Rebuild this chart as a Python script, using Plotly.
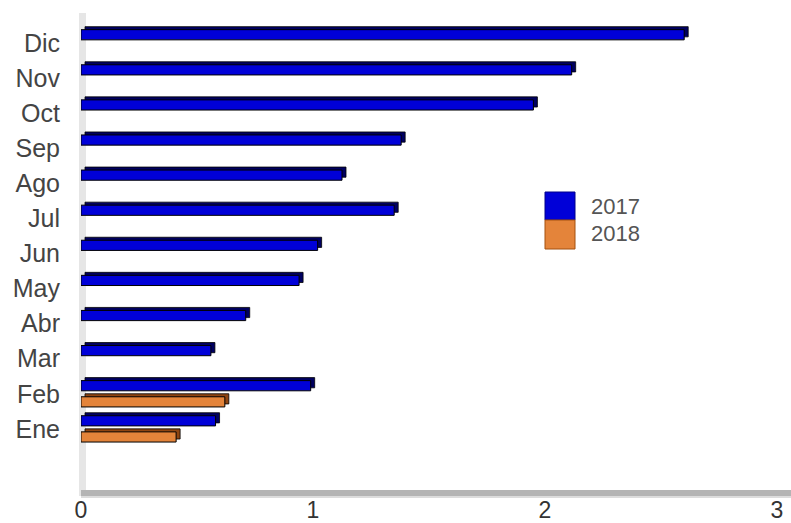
import plotly.graph_objects as go

months = ["Ene", "Feb", "Mar", "Abr", "May", "Jun", "Jul", "Ago", "Sep", "Oct", "Nov", "Dic"]
v2017 = [0.58, 0.99, 0.56, 0.71, 0.94, 1.02, 1.35, 1.125, 1.38, 1.95, 2.115, 2.60]
v2018 = [0.41, 0.62, None, None, None, None, None, None, None, None, None, None]
series_names = ["2017", "2018"]

# geometry (pixel based layout)
W, H = 791, 523
L, R, T, B = 81, 777, 13, 491
y_lo, y_hi = -1.77, 11.85
pos = list(range(len(months)))
px_per_x = (R - L) / 3.0
px_per_y = (B - T) / (y_hi - y_lo)
dx = 4 / px_per_x      # 3D depth (horizontal)
dy = 3 / px_per_y      # 3D depth (vertical)
bw = 0.29

fig = go.Figure()

styles = [
    dict(vals=v2017, face="#0000d8", depth="#000060", offset=0.085, name=series_names[0]),
    dict(vals=v2018, face="#e4843a", depth="#8f4512", offset=-0.085 - bw, name=series_names[1]),
]

# depth faces (shifted copies behind)
for s in styles:
    fig.add_trace(go.Bar(
        y=pos, x=s["vals"],
        base=dx, orientation="h", width=bw, offset=s["offset"] + dy,
        marker=dict(color=s["depth"], line=dict(color="#000000", width=0.8)),
        showlegend=False, hoverinfo="skip",
    ))
# front faces
for s in styles:
    fig.add_trace(go.Bar(
        y=pos, x=s["vals"], orientation="h", width=bw, offset=s["offset"],
        marker=dict(color=s["face"], line=dict(color="#000000", width=1)),
        name=s["name"], showlegend=False,
    ))

def pxx(p):
    return (p - L) / (R - L)

def pxy(p):
    return (B - p) / (B - T)

shapes = [
    # left wall
    dict(type="rect", xref="paper", yref="paper", x0=pxx(79), x1=pxx(86), y0=pxy(496), y1=pxy(T),
         fillcolor="#e6e6e6", line=dict(width=0), layer="below"),
    # floor
    dict(type="rect", xref="paper", yref="paper", x0=pxx(81), x1=pxx(791), y0=pxy(497), y1=pxy(490),
         fillcolor="#b4b4b4", line=dict(width=0), layer="below"),
    dict(type="rect", xref="paper", yref="paper", x0=pxx(81), x1=pxx(791), y0=pxy(498), y1=pxy(496),
         fillcolor="#dcdcdc", line=dict(width=0), layer="below"),
    # legend swatches
    dict(type="rect", xref="paper", yref="paper", x0=pxx(545), x1=pxx(575), y0=pxy(220), y1=pxy(192),
         fillcolor="#0000d8", line=dict(color="#00008a", width=1)),
    dict(type="rect", xref="paper", yref="paper", x0=pxx(545), x1=pxx(575), y0=pxy(249), y1=pxy(220),
         fillcolor="#e4843a", line=dict(color="#a4500f", width=1)),
]

annotations = [
    dict(xref="paper", yref="paper", x=pxx(589), y=pxy(206), text=series_names[0], showarrow=False,
         xanchor="left", yanchor="middle", font=dict(size=22, color="#555555")),
    dict(xref="paper", yref="paper", x=pxx(589), y=pxy(233), text=series_names[1], showarrow=False,
         xanchor="left", yanchor="middle", font=dict(size=22, color="#555555")),
]

fig.update_layout(
    width=W, height=H,
    margin=dict(l=L, r=W - R, t=T, b=H - B, pad=0),
    paper_bgcolor="white", plot_bgcolor="white",
    barmode="overlay",
    font=dict(family="Liberation Sans, Arial, sans-serif", size=24, color="#444444"),
    xaxis=dict(range=[0, 3], tickvals=[0, 1, 2, 3], showgrid=False, zeroline=False, showline=False,
               ticks="", ticklabelstandoff=3, automargin=False,
               tickfont=dict(size=23, color="#333333")),
    yaxis=dict(range=[y_lo, y_hi], tickvals=pos, ticktext=months, showgrid=False, zeroline=False,
               showline=False, ticks="", ticklabelstandoff=20, automargin=False,
               tickfont=dict(size=25, color="#444444")),
    shapes=shapes, annotations=annotations,
    showlegend=False,
)

fig.write_html("out.html", config={"displayModeBar": False},
               post_script="document.body.style.margin='0';document.body.style.overflow='hidden';")
